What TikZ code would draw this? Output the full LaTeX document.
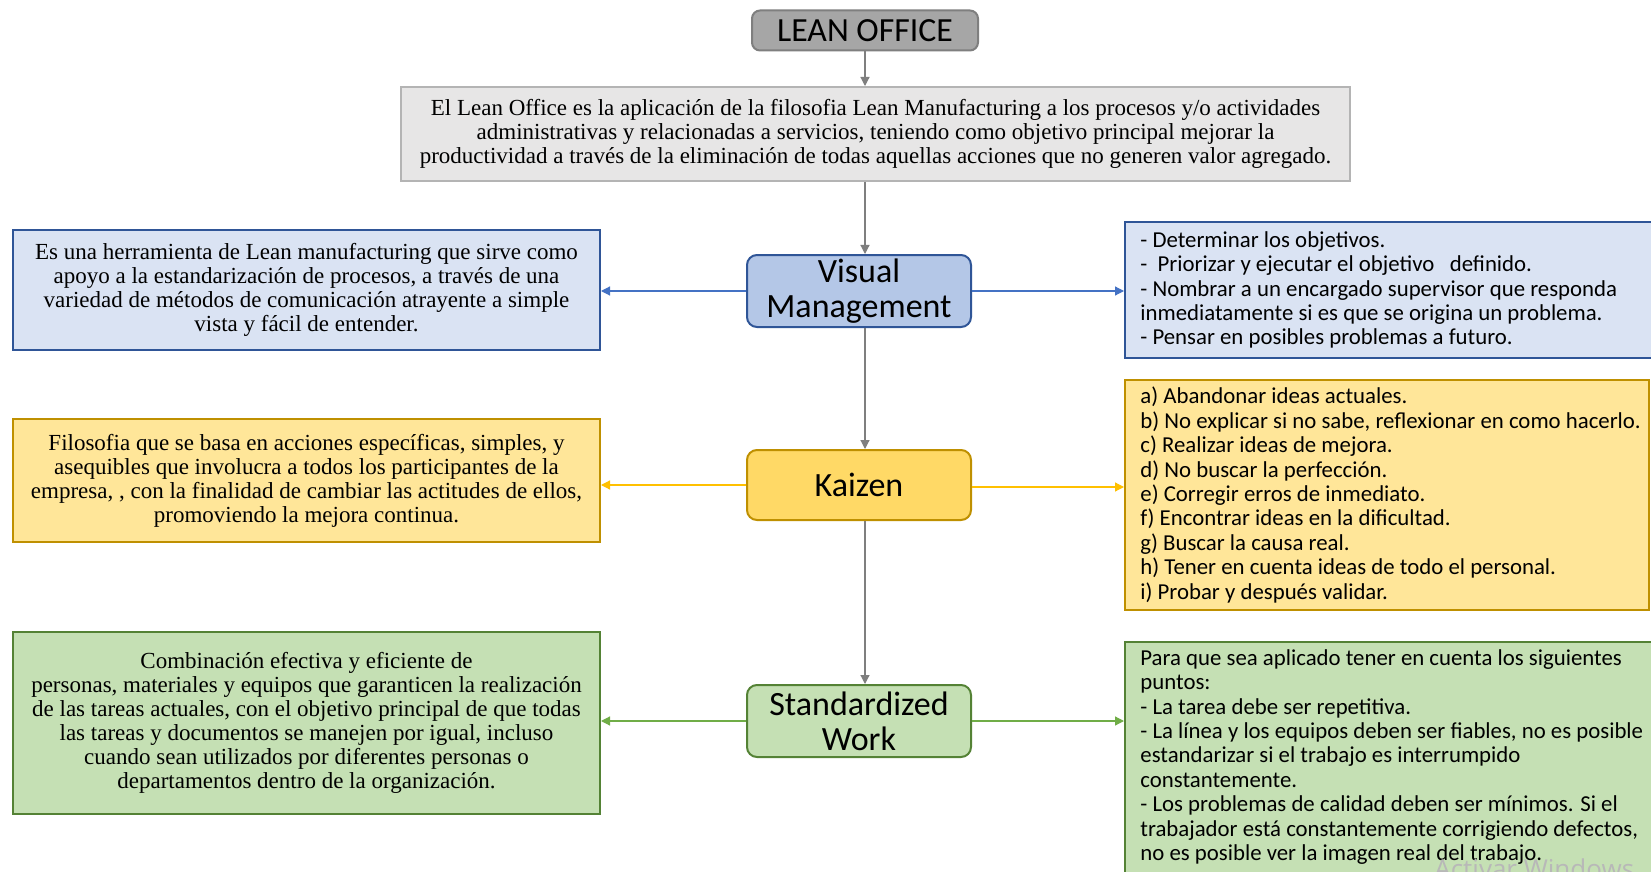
\documentclass[tikz,border=0pt]{standalone}
\usepackage{fontspec}
\setmainfont{Liberation Serif}
\newfontfamily\calfont{Carlito}
\newfontfamily\wmfont{Open Sans}
\usetikzlibrary{arrows.meta}

\definecolor{hdrfill}{HTML}{A6A6A6}
\definecolor{hdrline}{HTML}{7F7F7F}
\definecolor{deffill}{HTML}{E7E6E6}
\definecolor{defline}{HTML}{B4B4B4}
\definecolor{vmfill}{HTML}{B4C7E7}
\definecolor{bluefill}{HTML}{DAE3F3}
\definecolor{blueline}{HTML}{2F5597}
\definecolor{bluearrow}{HTML}{4472C4}
\definecolor{kzfill}{HTML}{FFD966}
\definecolor{yelfill}{HTML}{FFE699}
\definecolor{yelline}{HTML}{BF9000}
\definecolor{yelarrow}{HTML}{FFC000}
\definecolor{grnfill}{HTML}{C5E0B4}
\definecolor{grnline}{HTML}{548235}
\definecolor{grnarrow}{HTML}{70AD47}
\definecolor{grayarrow}{HTML}{7F7F7F}

\begin{document}
\begin{tikzpicture}[x=0.5pt,y=-0.5pt,
  hub/.style={rounded corners=5pt, draw, line width=1pt, minimum width=112pt,
    align=center, inner sep=0pt, font=\calfont\fontsize{17}{17.5}\selectfont},
  note/.style={draw, line width=1pt, align=center, inner sep=0pt,
    font=\fontsize{11.5}{12}\selectfont},
  listtext/.style={align=left, inner sep=0pt, font=\calfont\fontsize{11.4}{12.2}\selectfont},
  link/.style={line width=0.6pt, -{Triangle[length=4.5pt,width=4.5pt]}}]
\useasboundingbox (0,0) rectangle (1651,872);
\clip (0,0) rectangle (1651,872);
\fill[white] (0,0) rectangle (1651,872);

% title and definition
\node[draw=hdrline, fill=hdrfill, line width=1pt, rounded corners=4pt,
  minimum width=113pt, minimum height=20pt, inner sep=0pt,
  font=\calfont\fontsize{16.9}{18}\selectfont] (lean) at (865,30.5) {LEAN OFFICE};
\node[draw=defline, fill=deffill, line width=1pt, minimum width=474.5pt,
  minimum height=47pt, inner sep=0pt, align=center,
  font=\fontsize{11.5}{12}\selectfont] (def) at (875.5,134)
  {El Lean Office es la aplicación de la filosofia Lean Manufacturing a los procesos y/o actividades\\
   administrativas y relacionadas a servicios, teniendo como objetivo principal mejorar la\\
   productividad a través de la eliminación de todas aquellas acciones que no generen valor agregado.};

% central column
\node[hub, draw=blueline, fill=vmfill, minimum height=36pt] (vm) at (859,291) {Visual\\Management};
\node[hub, draw=yelline, fill=kzfill, minimum height=35pt] (kz) at (859,485) {Kaizen};
\node[hub, draw=grnline, fill=grnfill, minimum height=36pt] (sw) at (859,721) {Standardized\\Work};

% left descriptions
\node[note, draw=blueline, fill=bluefill, minimum width=293.5pt, minimum height=60pt] (lb) at (306.5,290)
  {Es una herramienta de Lean manufacturing que sirve como\\
   apoyo a la estandarización de procesos, a través de una\\
   variedad de métodos de comunicación atrayente a simple\\
   vista y fácil de entender.};
\node[note, draw=yelline, fill=yelfill, minimum width=293.5pt, minimum height=61.5pt] (ly) at (306.5,480.5)
  {Filosofia que se basa en acciones específicas, simples, y\\
   asequibles que involucra a todos los participantes de la\\
   empresa, , con la finalidad de cambiar las actitudes de ellos,\\
   promoviendo la mejora continua.};
\node[note, draw=grnline, fill=grnfill, minimum width=293.5pt, minimum height=91pt] (lg) at (306.5,723)
  {Combinación efectiva y eficiente de\\
   personas, materiales y equipos que garanticen la realización\\
   de las tareas actuales, con el objetivo principal de que todas\\
   las tareas y documentos se manejen por igual, incluso\\
   cuando sean utilizados por diferentes personas o\\
   departamentos dentro de la organización.};

% right lists
\node[draw=blueline, fill=bluefill, line width=1pt, minimum width=267.5pt, minimum height=68pt,
  inner sep=0pt] (rb) at (1392.5,290) {};
\node[listtext, anchor=west] (rbt) at (1140,290)
  {- Determinar los objetivos.\\
   -\ \ Priorizar y ejecutar el objetivo\ \ \ definido.\\
   - Nombrar a un encargado supervisor que responda\\
   inmediatamente si es que se origina un problema.\\
   - Pensar en posibles problemas a futuro.};
\node[draw=yelline, fill=yelfill, line width=1pt, minimum width=262pt, minimum height=115pt,
  inner sep=0pt] (ry) at (1387,495) {};
\node[listtext, anchor=west] (ryt) at (1140,495)
  {a) Abandonar ideas actuales.\\
   b) No explicar si no sabe, reflexionar en como hacerlo.\\
   c) Realizar ideas de mejora.\\
   d) No buscar la perfección.\\
   e) Corregir erros de inmediato.\\
   f) Encontrar ideas en la dificultad.\\
   g) Buscar la causa real.\\
   h) Tener en cuenta ideas de todo el personal.\\
   i) Probar y después validar.};
\node[draw=grnline, fill=grnfill, line width=1pt, minimum width=267.5pt, minimum height=121.5pt,
  inner sep=0pt] (rg) at (1392.5,763.5) {};
\node[listtext, anchor=north west] (rgt) at (1140,649)
  {Para que sea aplicado tener en cuenta los siguientes\\
   puntos:\\
   - La tarea debe ser repetitiva.\\
   - La línea y los equipos deben ser fiables, no es posible\\
   estandarizar si el trabajo es interrumpido\\
   constantemente.\\
   - Los problemas de calidad deben ser mínimos. Si el\\
   trabajador está constantemente corrigiendo defectos,\\
   no es posible ver la imagen real del trabajo.};

% vertical connectors
\draw[link, draw=grayarrow, fill=grayarrow] (lean.south) -- (lean.south |- def.north);
\draw[link, draw=grayarrow, fill=grayarrow] (lean.south |- def.south) -- (lean.south |- vm.north);
\draw[link, draw=grayarrow, fill=grayarrow] (lean.south |- vm.south) -- (lean.south |- kz.north);
\draw[link, draw=grayarrow, fill=grayarrow] (lean.south |- kz.south) -- (lean.south |- sw.north);

% side connectors
\draw[link, draw=bluearrow, fill=bluearrow] (vm.west) -- (vm.west -| lb.east);
\draw[link, draw=bluearrow, fill=bluearrow] (vm.east) -- (vm.east -| rb.west);
\draw[link, draw=yelarrow, fill=yelarrow] (kz.west) -- (kz.west -| ly.east);
\draw[link, draw=yelarrow, fill=yelarrow] ([yshift=-1pt]kz.east) -- ([yshift=-1pt]kz.east -| ry.west);
\draw[link, draw=grnarrow, fill=grnarrow] (sw.west) -- (sw.west -| lg.east);
\draw[link, draw=grnarrow, fill=grnarrow] (sw.east) -- (sw.east -| rg.west);

% system watermark
\node[anchor=base west, inner sep=0pt, text=black!28, font=\wmfont\fontsize{13}{15}\selectfont]
  (wm) at (1434,878) {Activar Windows};
\end{tikzpicture}
\end{document}
